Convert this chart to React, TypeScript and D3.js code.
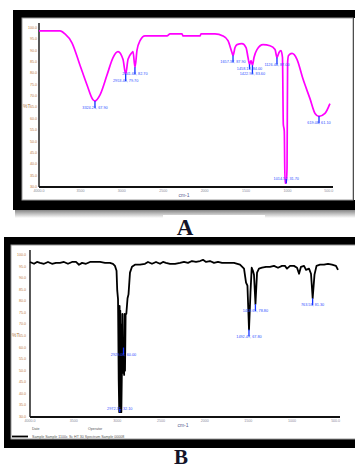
import React from "react";
import * as d3 from "d3";

// wavenumber ticks (cm-1), same for both spectra
const xTicks = [4000, 3500, 3000, 2500, 2000, 1500, 1000, 500];
const xTickLabels = ["4000.0", "3500", "3000", "2500", "2000", "1500", "1000", "500.0"];
const yTicks = [30, 35, 40, 45, 50, 55, 60, 65, 70, 75, 80, 85, 90, 95, 100];

// spectrum A: [wavenumber, %T]
const spectrumA: [number, number][] = [
  [4000, 98.7], [3746, 98.7], [3686, 97.4], [3602, 93.5], [3505, 83.6], [3420, 74.9],
  [3348, 68.4], [3324, 67.9], [3263, 70.6], [3179, 79.3], [3106, 87.0], [3046, 89.6],
  [2986, 86.2], [2953, 79.7], [2925, 86.2], [2877, 89.2], [2865, 89.6], [2841, 82.7],
  [2817, 90.1], [2780, 94.4], [2720, 96.5], [2454, 96.5], [2418, 97.4], [2273, 97.4],
  [2261, 96.5], [2056, 96.5], [2044, 97.4], [1875, 97.4], [1778, 96.5], [1718, 94.4],
  [1670, 89.2], [1657, 87.9], [1633, 91.4], [1609, 92.7], [1549, 93.1], [1500, 91.4],
  [1476, 87.0], [1458, 84.0], [1440, 85.7], [1422, 83.6], [1404, 87.0], [1368, 90.5],
  [1295, 92.7], [1211, 92.2], [1150, 90.5], [1126, 87.0], [1102, 89.2], [1078, 90.1],
  [1060, 87.0], [1050, 57.7], [1038, 54.6], [1030, 31.7], [1014, 31.7], [1005, 38.6],
  [998, 84.9], [987, 87.9], [945, 88.8], [885, 86.2], [812, 77.5], [728, 68.9],
  [667, 62.4], [619, 61.1], [547, 62.4], [487, 66.7],
];

const peaksA = [
  { wn: 3324.21, t: 67.9 }, { wn: 2953.4, t: 79.7 }, { wn: 2841.68, t: 82.7 },
  { wn: 1657.37, t: 87.9 }, { wn: 1458.13, t: 84.0 }, { wn: 1422.9, t: 83.6 },
  { wn: 1126.44, t: 87.0 }, { wn: 1014.52, t: 31.7 }, { wn: 619.08, t: 61.1 },
];

// spectrum B: [wavenumber, %T]
const spectrumB: [number, number][] = [
  [4000, 97.0], [3954, 96.2], [3920, 97.0], [3885, 96.6], [3840, 96.2], [3794, 97.0],
  [3748, 96.2], [3702, 96.6], [3656, 96.6], [3611, 97.0], [3565, 96.2], [3519, 97.0],
  [3473, 97.0], [3439, 95.8], [3404, 96.6], [3359, 96.2], [3313, 97.0], [3256, 97.0],
  [3198, 97.0], [3141, 96.6], [3084, 96.6], [3050, 96.2], [3027, 95.3], [3009, 93.2],
  [3001, 84.7], [2992, 80.9], [2984, 45.7], [2978, 32.1], [2974, 78.0], [2970, 32.1],
  [2966, 76.0], [2962, 32.1], [2958, 70.0], [2954, 32.1], [2948, 49.1], [2942, 74.5],
  [2936, 49.1], [2929, 52.1], [2922, 48.2], [2917, 74.5], [2912, 50.0], [2905, 74.5],
  [2897, 74.5], [2883, 81.3], [2872, 83.0],
  [2855, 92.4], [2832, 94.9], [2798, 95.8], [2740, 95.8], [2683, 96.2], [2649, 97.0],
  [2603, 96.2], [2557, 97.0], [2511, 96.2], [2477, 97.0], [2443, 96.6], [2397, 96.2],
  [2339, 96.2], [2282, 96.6], [2236, 97.0], [2191, 96.6], [2145, 97.4], [2099, 97.0],
  [2053, 97.4], [2019, 97.9], [1984, 97.0], [1939, 97.4], [1893, 96.6], [1847, 97.0],
  [1801, 96.6], [1733, 96.6], [1664, 96.6], [1595, 95.8], [1549, 94.1], [1526, 88.1],
  [1510, 86.8], [1492, 67.8], [1475, 83.9], [1461, 94.5], [1447, 93.2], [1435, 91.5],
  [1418, 78.8], [1400, 92.4], [1378, 94.1], [1343, 94.5], [1297, 94.9], [1252, 94.9],
  [1206, 95.3], [1160, 94.5], [1114, 95.3], [1080, 95.3], [1057, 94.1], [1022, 95.3],
  [977, 95.3], [942, 94.5], [919, 91.9], [897, 94.9], [862, 95.3], [839, 93.6],
  [805, 94.1], [782, 91.9], [763, 81.3], [742, 91.5], [719, 95.3], [679, 95.8],
  [633, 95.8], [587, 96.2], [542, 95.8], [496, 95.3], [473, 93.6],
];

const peaksB = [
  { wn: 2972.31, t: 32.1 }, { wn: 2929.06, t: 60.0 }, { wn: 1492.47, t: 67.8 },
  { wn: 1418.65, t: 78.8 }, { wn: 763.58, t: 81.3 },
];

const footerB = ["Date", "Operator"];
const legendB = "Sample  Sample 1100c Sc HT 30  Spectrum  Sample 00008";

type Props = {
  left: number; right: number; top: number; bottom: number;
  data: [number, number][];
  peaks: { wn: number; t: number }[];
  color: string;
  width: number;
  curve: d3.CurveFactory;
  yLabelX: number;
  yTitleX: number;
};

const Spectrum: React.FC<Props> = ({ left, right, top, bottom, data, peaks, color, width, curve, yLabelX, yTitleX }) => {
  const x = d3.scaleLinear().domain([4000, 450]).range([left, right]);
  const y = d3.scaleLinear().domain([30, 100]).range([bottom, top + 3]);
  const line = d3.line<[number, number]>().x(d => x(d[0])).y(d => y(d[1])).curve(curve);
  const tickFont = "Liberation Sans, Arial, sans-serif";

  // label rows: below each peak, kept above the axis, staggered when two are close
  const rows: number[] = [];
  peaks.forEach((p, i) => {
    let ly = Math.min(y(p.t) + 7, bottom - 8);
    if (i > 0 && Math.abs(x(p.wn) - x(peaks[i - 1].wn)) < 20 && Math.abs(ly - rows[i - 1]) < 4) {
      rows[i - 1] -= 2;
      ly = rows[i - 1] + 4.5;
    }
    rows.push(ly);
  });

  return (
    <g>
      {yTicks.map(t => (
        <text key={t} x={yLabelX} y={y(t)} fontSize={3.6} fill="#c07a3a" textAnchor="end"
          dominantBaseline="middle" fontFamily={tickFont}>{t.toFixed(1)}</text>
      ))}
      {xTicks.map((t, i) => (
        <text key={t} x={x(t)} y={bottom + 5} fontSize={3.6} fill="#8a8a9a" textAnchor="middle"
          fontFamily={tickFont}>{xTickLabels[i]}</text>
      ))}
      <text x={yTitleX} y={(top + bottom) / 2 + 2} fontSize={5} fill="#b07a4a" fontFamily={tickFont}>%T</text>
      <text x={(left + right) / 2 - 2} y={bottom + 10} fontSize={5} fill="#5a6090" textAnchor="middle"
        fontFamily={tickFont}>cm-1</text>
      <line x1={left} x2={left} y1={top - 2} y2={bottom} stroke="#111" strokeWidth={1.4} />
      <line x1={left} x2={right} y1={bottom} y2={bottom} stroke="#111" strokeWidth={1.8} />
      <path d={line(data) || ""} fill="none" stroke={color} strokeWidth={width} strokeLinejoin="round" />
      {peaks.map((p, i) => {
        const py = y(p.t);
        const ly = rows[i];
        return (
          <g key={i}>
            <line x1={x(p.wn)} x2={x(p.wn)} y1={py} y2={ly} stroke="#1030ff" strokeWidth={1.3} />
            <text x={x(p.wn)} y={ly} fontSize={3.8} fill="#3050ff" textAnchor="middle"
              dominantBaseline="middle" fontFamily={tickFont}>
              {p.wn.toFixed(2)}, {p.t.toFixed(2)}
            </text>
          </g>
        );
      })}
    </g>
  );
};

export default function App() {
  return (
    <svg width={355} height={468} style={{ position: "absolute", left: 0, top: 0, background: "#fff" }}>
      <defs>
        <linearGradient id="shadow" x1="0" y1="0" x2="0" y2="1">
          <stop offset="0" stopColor="#777" />
          <stop offset="1" stopColor="#fff" />
        </linearGradient>
      </defs>

      {/* panel A */}
      <rect x={15} y={209} width={340} height={9} fill="url(#shadow)" />
      <rect x={163} y={215} width={102} height={18} fill="#fff" />
      <rect x={13} y={10} width={342} height={200} fill="#000" />
      <rect x={22} y={18} width={331} height={182} fill="#fff" stroke="#999" strokeWidth={1} />
      <rect x={354} y={18} width={1} height={182} fill="#fff" />
      <Spectrum left={39} right={333} top={25} bottom={187} data={spectrumA} peaks={peaksA}
        color="#ff00ff" width={1.7} curve={d3.curveMonotoneX} yLabelX={37} yTitleX={23} />
      <text x={185} y={235} fontSize={23} fontWeight="bold" fontFamily="Liberation Serif, Times New Roman, serif"
        fill="#141428" textAnchor="middle">A</text>

      {/* panel B */}
      <rect x={4} y={237} width={351} height={211} fill="#000" />
      <rect x={11} y={245} width={345} height={194} fill="#fff" stroke="#999" strokeWidth={1} />
      <Spectrum left={30} right={340} top={252} bottom={417} data={spectrumB} peaks={peaksB}
        color="#000" width={1.8} curve={d3.curveLinear} yLabelX={26} yTitleX={12} />
      <text x={32} y={430} fontSize={3.6} fill="#555" fontFamily="Liberation Sans, Arial, sans-serif">{footerB[0]}</text>
      <text x={88} y={430} fontSize={3.6} fill="#555" fontFamily="Liberation Sans, Arial, sans-serif">{footerB[1]}</text>
      <line x1={12} x2={28} y1={436.5} y2={436.5} stroke="#000" strokeWidth={1.8} />
      <text x={32} y={438} fontSize={3.6} fill="#555" fontFamily="Liberation Sans, Arial, sans-serif">{legendB}</text>
      <text x={181} y={464} fontSize={21} fontWeight="bold" fontFamily="Liberation Serif, Times New Roman, serif"
        fill="#141428" textAnchor="middle">B</text>
    </svg>
  );
}
